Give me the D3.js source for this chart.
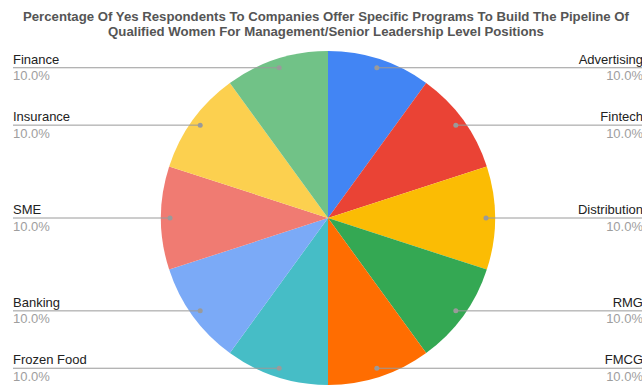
<!DOCTYPE html>
<html>
<head>
<meta charset="utf-8">
<script src="https://cdn.jsdelivr.net/npm/d3@7"></script>
<style>
  html, body { margin: 0; padding: 0; background: #fff; overflow: hidden; }
  svg { display: block; font-family: "Liberation Sans", Arial, sans-serif; }
</style>
</head>
<body>
<svg id="chart" width="642" height="385"></svg>
<script>
// Industries, clockwise from 12 o'clock
const categories = ["Advertising", "Fintech", "Distribution", "RMG", "FMCG",
                    "Frozen Food", "Banking", "SME", "Insurance", "Finance"];
// Share of "yes" respondents per industry
const values = [10, 10, 10, 10, 10, 10, 10, 10, 10, 10];
const sliceColors = ["#4285F4", "#EA4335", "#FBBC04", "#34A853", "#FF6D01",
                     "#46BDC6", "#7BAAF7", "#F07B72", "#FCD04F", "#71C287"];
const titleLines = [
  "Percentage Of Yes Respondents To Companies Offer Specific Programs To Build The Pipeline Of",
  "Qualified Women For Management/Senior Leadership Level Positions"
];

const W = 642, H = 385;
const cx = 328, cy = 218, R = 167;
const leftX = 13, rightX = 643;

const svg = d3.select("#chart");

// Title
svg.append("text")
  .attr("x", 326)
  .attr("y", 20.7)
  .attr("text-anchor", "middle")
  .attr("font-size", 13.2)
  .attr("font-weight", "bold")
  .attr("fill", "#555")
  .selectAll("tspan")
  .data(titleLines)
  .join("tspan")
  .attr("x", 326)
  .attr("dy", (d, i) => i === 0 ? 0 : 15.3)
  .text(d => d);

const total = d3.sum(values);
const data = categories.map((c, i) => ({ name: c, value: values[i], color: sliceColors[i] }));

const pie = d3.pie().sort(null).value(d => d.value);
const arcs = pie(data);
const arc = d3.arc().innerRadius(0).outerRadius(R);
const dotArc = d3.arc().innerRadius(R * 0.946).outerRadius(R * 0.946);

const g = svg.append("g").attr("transform", `translate(${cx},${cy})`);

g.selectAll("path.slice")
  .data(arcs)
  .join("path")
  .attr("class", "slice")
  .attr("d", arc)
  .attr("fill", d => d.data.color);

const fmt = d3.format(".1%");

// Leader lines, dots and labels
const labels = svg.append("g");
arcs.forEach(a => {
  const [dx, dy] = dotArc.centroid(a);
  const px = cx + dx, py = cy + dy;
  const mid = (a.startAngle + a.endAngle) / 2;
  const right = mid < Math.PI;
  const endX = right ? W : leftX;

  labels.append("line")
    .attr("x1", px).attr("y1", py)
    .attr("x2", endX).attr("y2", py)
    .attr("stroke", "#9a9a9a")
    .attr("stroke-width", 1);

  labels.append("circle")
    .attr("cx", px).attr("cy", py)
    .attr("r", 2.5)
    .attr("fill", "#9a9a9a");

  const tx = right ? rightX : leftX;
  const anchor = right ? "end" : "start";

  labels.append("text")
    .attr("x", tx).attr("y", py - 4)
    .attr("text-anchor", anchor)
    .attr("font-size", 13)
    .attr("fill", "#222")
    .text(a.data.name);

  labels.append("text")
    .attr("x", tx).attr("y", py + 12.6)
    .attr("text-anchor", anchor)
    .attr("font-size", 13)
    .attr("fill", "#9e9e9e")
    .text(fmt(a.data.value / total));
});
</script>
</body>
</html>
